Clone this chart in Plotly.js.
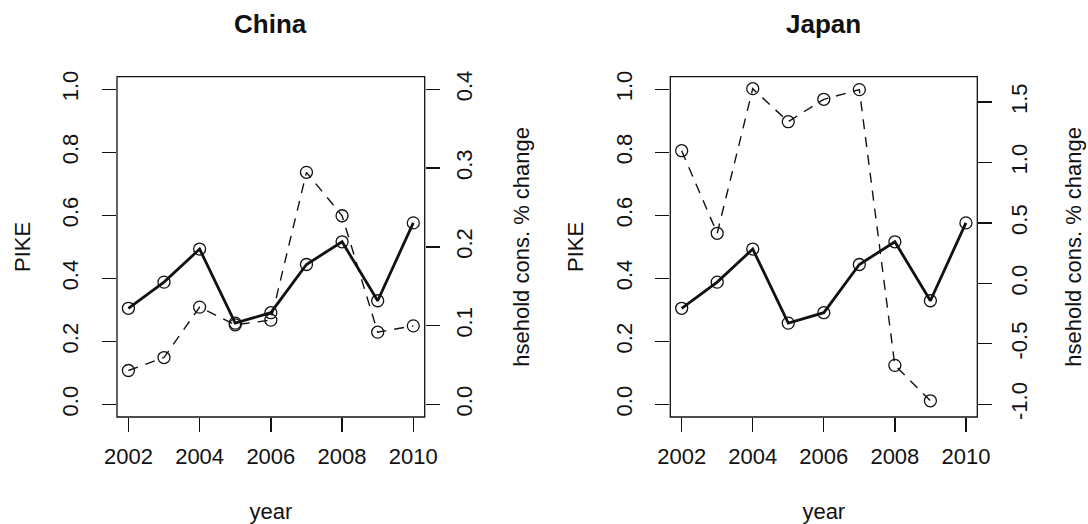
<!DOCTYPE html>
<html>
<head>
<meta charset="utf-8">
<script src="https://cdn.plot.ly/plotly-3.0.1.min.js"></script>
<style>
  html, body { margin: 0; padding: 0; background: #fff; }
  #chart { width: 1088px; height: 524px; }
</style>
</head>
<body>
<div id="chart"></div>
<script>
// ---- data ----
var years = [2002, 2003, 2004, 2005, 2006, 2007, 2008, 2009, 2010];
var pike = [0.305, 0.388, 0.493, 0.258, 0.291, 0.444, 0.516, 0.329, 0.576];
var chinaHhCons = [0.043, 0.0595, 0.1235, 0.101, 0.107, 0.2946, 0.2395, 0.0917, 0.0997];
var japanHhCons = [1.097, 0.414, 1.61, 1.337, 1.522, 1.602, -0.678, -0.971, null];

var xTickVals = [2002, 2004, 2006, 2008, 2010];
var xTickText = ['2002', '2004', '2006', '2008', '2010'];
var pikeTickVals = [0, 0.2, 0.4, 0.6, 0.8, 1.0];
var pikeTickText = ['0.0', '0.2', '0.4', '0.6', '0.8', '1.0'];
var chinaTickVals = [0, 0.1, 0.2, 0.3, 0.4];
var chinaTickText = ['0.0', '0.1', '0.2', '0.3', '0.4'];
var japanTickVals = [-1.0, -0.5, 0, 0.5, 1.0, 1.5];
var japanTickText = ['-1.0', '-0.5', '0.0', '0.5', '1.0', '1.5'];

var panelTitles = ['China', 'Japan'];
var xTitle = 'year';
var yLeftTitle = 'PIKE';
var yRightTitle = 'hsehold cons. % change';

// ---- styling ----
var W = 1088, H = 524;
var FONT = 'Liberation Sans, Arial, Helvetica, sans-serif';
var INK = '#111';
var baseFont = {family: FONT, size: 22, color: INK};

var solidLine = {color: INK, width: 2.8};
var dashLine = {color: INK, width: 1.4, dash: '10px,8px'};
var openMarker = {symbol: 'circle-open', size: 12, color: INK, line: {width: 1.3, color: INK}};

var yDom = [1 - 417 / H, 1 - 76.7 / H];
var xDomC = [117 / W, 424.7 / W];
var xDomJ = [670.3 / W, 977.3 / W];

var traces = [
  {x: years, y: pike, xaxis: 'x', yaxis: 'y', mode: 'lines+markers', line: solidLine, marker: openMarker},
  {x: years, y: chinaHhCons, xaxis: 'x', yaxis: 'y2', mode: 'lines+markers', line: dashLine, marker: openMarker},
  {x: years, y: pike, xaxis: 'x2', yaxis: 'y3', mode: 'lines+markers', line: solidLine, marker: openMarker},
  {x: years, y: japanHhCons, xaxis: 'x2', yaxis: 'y4', mode: 'lines+markers', line: dashLine, marker: openMarker, connectgaps: false}
];

function xAxis(dom, anchor) {
  return {
    domain: dom, anchor: anchor, range: [2001.68, 2010.32],
    tickmode: 'array', tickvals: xTickVals, ticktext: xTickText,
    ticks: 'outside', ticklen: 14, tickwidth: 1.3, tickcolor: INK,
    showgrid: false, zeroline: false, showline: false,
    tickfont: baseFont, ticklabelstandoff: 6,
    title: {text: xTitle, font: baseFont, standoff: 35}
  };
}
function yAxis(anchor, range, vals, text, side, overlay, title, labelOff, titleOff) {
  var a = {
    domain: yDom, anchor: anchor, range: range, side: side,
    tickmode: 'array', tickvals: vals, ticktext: text, tickangle: -90,
    ticks: 'outside', ticklen: 14, tickwidth: 1.3, tickcolor: INK,
    showgrid: false, zeroline: false, showline: false,
    tickfont: baseFont, ticklabelstandoff: labelOff,
    title: {text: title, font: baseFont, standoff: titleOff}
  };
  if (overlay) a.overlaying = overlay;
  return a;
}

var layout = {
  width: W, height: H,
  margin: {l: 0, r: 0, t: 0, b: 0},
  paper_bgcolor: '#fff', plot_bgcolor: 'rgba(0,0,0,0)',
  showlegend: false,
  font: baseFont,
  xaxis: xAxis(xDomC, 'y'),
  yaxis: yAxis('x', [-0.04, 1.04], pikeTickVals, pikeTickText, 'left', null, yLeftTitle, 15, 21),
  yaxis2: yAxis('x', [-0.016, 0.416], chinaTickVals, chinaTickText, 'right', 'y', yRightTitle, 6, 37),
  xaxis2: xAxis(xDomJ, 'y3'),
  yaxis3: yAxis('x2', [-0.04, 1.04], pikeTickVals, pikeTickText, 'left', null, yLeftTitle, 15, 21),
  yaxis4: yAxis('x2', [-1.105, 1.709], japanTickVals, japanTickText, 'right', 'y3', yRightTitle, 8, 34),
  shapes: [
    {type: 'rect', xref: 'x domain', yref: 'y domain', x0: 0, x1: 1, y0: 0, y1: 1, line: {color: INK, width: 1.3}},
    {type: 'rect', xref: 'x2 domain', yref: 'y3 domain', x0: 0, x1: 1, y0: 0, y1: 1, line: {color: INK, width: 1.3}}
  ],
  annotations: [
    {text: '<b>' + panelTitles[0] + '</b>', xref: 'x domain', yref: 'paper', x: 0.5, y: 1 - 24 / H, yanchor: 'middle', showarrow: false, font: {family: FONT, size: 26, color: INK}},
    {text: '<b>' + panelTitles[1] + '</b>', xref: 'x2 domain', yref: 'paper', x: 0.5, y: 1 - 24 / H, yanchor: 'middle', showarrow: false, font: {family: FONT, size: 26, color: INK}}
  ]
};

Plotly.newPlot('chart', traces, layout, {staticPlot: true, displayModeBar: false});
</script>
</body>
</html>
